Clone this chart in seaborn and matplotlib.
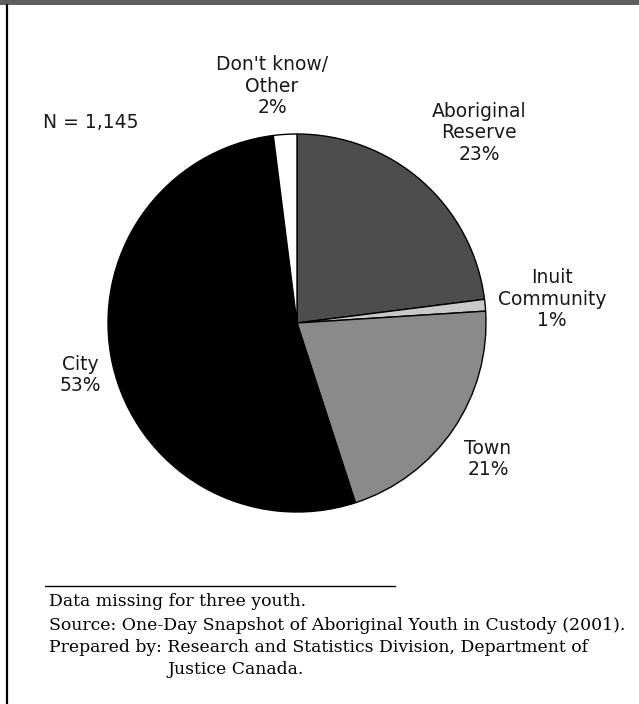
import matplotlib
matplotlib.use("Agg")
import matplotlib.pyplot as plt
from matplotlib.patches import Rectangle
from matplotlib.lines import Line2D
import seaborn as sns

# Place of residence of Aboriginal youth in custody
categories = ["Aboriginal\nReserve", "Inuit\nCommunity", "Town", "City", "Don't know/\nOther"]
shares = [23, 1, 21, 53, 2]
colors = ["#4d4d4d", "#c9c9c9", "#8a8a8a", "#000000", "#ffffff"]
sample_note = "N = 1,145"
footnotes = [
    "Data missing for three youth.",
    "Source: One-Day Snapshot of Aboriginal Youth in Custody (2001).",
    "Prepared by: Research and Statistics Division, Department of",
    "Justice Canada.",
]

sns.set_theme(style="white")
plt.rcParams["font.family"] = ["DejaVu Sans"]

W, H = 639, 704
fig = plt.figure(figsize=(W / 100, H / 100), dpi=100)
fig.patch.set_facecolor("white")


def fx(x):
    return x / W


def fy(y):
    return 1 - y / H


# pie axes: centre (297, 323) px, radius 189 px
cx, cy, r = 297, 323, 189
ax = fig.add_axes([fx(cx - r), fy(cy + r), 2 * r / W, 2 * r / H])
ax.pie(shares, colors=colors, startangle=90, counterclock=False, radius=1,
       wedgeprops=dict(edgecolor="black", linewidth=1.0))
ax.set_xlim(-1, 1)
ax.set_ylim(-1, 1)
ax.set_aspect("equal")
ax.axis("off")

# slice labels (name + percentage)
label_pos = [(479, 133), (552, 299), (488, 459), (80, 375), (272, 86)]
for name, val, (x, y) in zip(categories, shares, label_pos):
    fig.text(fx(x), fy(y), f"{name}\n{val}%", ha="center", va="center",
             fontsize=13.5, color="#1a1a1a", linespacing=1.15)

fig.text(fx(43), fy(122), sample_note, ha="left", va="center",
         fontsize=13.5, color="#1a1a1a")

# frame: grey band along the top, rule down the left side
fig.add_artist(Rectangle((0, fy(5)), 1, 5 / H, transform=fig.transFigure,
                         facecolor="#5f5f5f", edgecolor="none"))
fig.add_artist(Line2D([fx(6.5), fx(6.5)], [fy(5), 0], transform=fig.transFigure,
                      color="black", linewidth=1.6))

# footnotes
fig.add_artist(Line2D([fx(45), fx(395)], [fy(586), fy(586)], transform=fig.transFigure,
                      color="black", linewidth=1.0))
foot_y = [602, 625, 647, 669]
foot_x = [49, 49, 49, 167]
for t, x, y in zip(footnotes, foot_x, foot_y):
    fig.text(fx(x), fy(y), t, ha="left", va="center", fontsize=12.4,
             family="DejaVu Serif", color="black")

fig.savefig("out.png", dpi=100, facecolor="white")
